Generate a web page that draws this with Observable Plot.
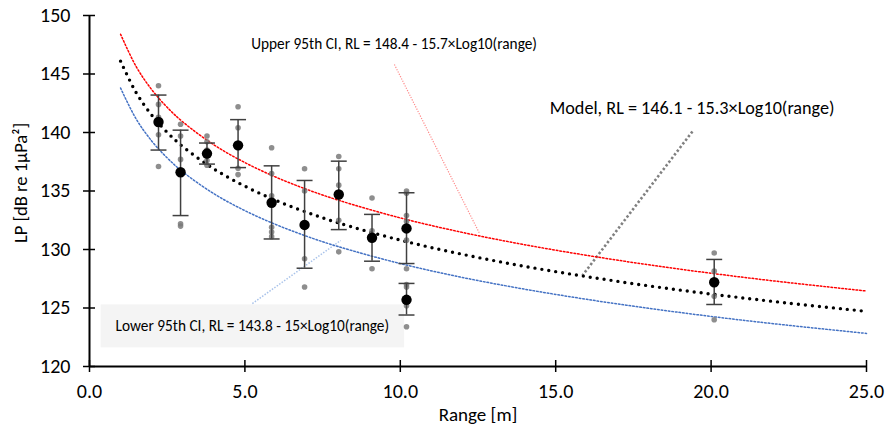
<!DOCTYPE html>
<html>
<head>
<meta charset="utf-8">
<script src="https://cdn.jsdelivr.net/npm/d3@7"></script>
<script src="https://cdn.jsdelivr.net/npm/@observablehq/plot@0.6"></script>
<style>
  html, body { margin: 0; padding: 0; background: #fff; }
  #chart { width: 894px; height: 436px; }
</style>
</head>
<body>
<div id="chart"></div>
<script>
// ---- data ----
const xTicks = [0, 5, 10, 15, 20, 25];
const yTicks = [120, 125, 130, 135, 140, 145, 150];

// individual measurements
const sampleRange = [
  2.22, 2.22, 2.22, 2.22, 2.22,
  2.93, 2.93, 2.93, 2.93, 2.93,
  3.78, 3.78, 3.78, 3.78, 3.78,
  4.78, 4.78, 4.78, 4.78, 4.78,
  5.86, 5.86, 5.86, 5.86, 5.86, 5.86, 5.86,
  6.92, 6.92, 6.92, 6.92, 6.92,
  8.02, 8.02, 8.02, 8.02, 8.02, 8.02,
  9.09, 9.09, 9.09, 9.09,
  10.2, 10.2, 10.2, 10.2, 10.2, 10.2, 10.2, 10.2, 10.2, 10.2, 10.2,
  20.1, 20.1, 20.1, 20.1, 20.1
];
const sampleLP = [
  144.0, 142.4, 141.3, 139.8, 137.1,
  140.7, 139.7, 137.7, 132.2, 132.0,
  139.7, 139.2, 138.5, 137.6, 137.2,
  142.2, 140.4, 139.0, 136.95, 136.4,
  138.7, 136.5, 134.6, 134.3, 131.9, 131.5, 131.1,
  136.9, 135.0, 132.3, 129.2, 126.8,
  137.95, 136.9, 135.5, 134.6, 132.5, 129.8,
  134.4, 131.6, 131.25, 128.35,
  135.0, 134.8, 132.9, 132.4, 130.8, 128.35, 127.0, 126.8, 125.9, 125.2, 123.4,
  129.7, 128.15, 127.2, 126.0, 124.0
];

// group means with error bars
const meanRange = [2.22, 2.93, 3.78, 4.78, 5.86, 6.92, 8.02, 9.09, 10.2, 10.2, 20.1];
const meanLP    = [140.9, 136.6, 138.2, 138.9, 134.0, 132.1, 134.7, 131.0, 131.8, 125.7, 127.2];
const errHigh   = [143.2, 140.2, 139.1, 141.1, 137.15, 135.9, 137.55, 133.0, 134.85, 127.1, 129.15];
const errLow    = [138.5, 132.9, 137.3, 137.0, 130.9, 128.4, 131.7, 129.0, 128.8, 124.4, 125.3];

// fitted curves
const curveRange = [1, 1.5, 2, 2.5, 3, 4, 5, 6, 7, 8, 10, 12, 14, 16, 18, 20, 22, 25];
const modelLP = [146.10, 143.41, 141.49, 140.01, 138.80, 136.89, 135.41, 134.19, 133.17, 132.28, 130.80, 129.59, 128.56, 127.68, 126.89, 126.19, 125.56, 124.71];
const upperLP = [148.40, 145.64, 143.67, 142.15, 140.91, 138.95, 137.43, 136.18, 135.13, 134.22, 132.70, 131.46, 130.41, 129.50, 128.69, 127.97, 127.32, 126.45];
const lowerLP = [143.80, 141.16, 139.28, 137.83, 136.64, 134.77, 133.32, 132.13, 131.12, 130.25, 128.80, 127.61, 126.61, 125.74, 124.97, 124.28, 123.66, 122.83];

// annotations (data units)
const labelText  = ["Upper 95th CI, RL = 148.4 - 15.7×Log10(range)",
                    "Model, RL = 146.1 - 15.3×Log10(range)",
                    "Lower 95th CI, RL = 143.8 - 15×Log10(range)"];
const labelRange = [9.80, 19.39, 5.24];
const labelLP    = [147.52, 142.05, 123.42];
const leaderX1 = [9.81, 19.40, 5.24];
const leaderY1 = [145.81, 140.09, 125.38];
const leaderX2 = [12.55, 15.86, 8.08];
const leaderY2 = [131.37, 127.78, 130.77];

// ---- tables ----
const samples = sampleRange.map((r, i) => ({r, lp: sampleLP[i]}));
const means = meanRange.map((r, i) => ({r, lp: meanLP[i], hi: errHigh[i], lo: errLow[i]}));
const model = curveRange.map((r, i) => ({r, lp: modelLP[i]}));
const upper = curveRange.map((r, i) => ({r, lp: upperLP[i]}));
const lower = curveRange.map((r, i) => ({r, lp: lowerLP[i]}));
const leaders = leaderX1.map((x, i) => ({x1: x, y1: leaderY1[i], x2: leaderX2[i], y2: leaderY2[i]}));
const labels = labelText.map((t, i) => ({t, r: labelRange[i], lp: labelLP[i]}));

const capSymbol = {
  draw(ctx, size) {
    const w = Math.sqrt(size);
    ctx.moveTo(-w, 0);
    ctx.lineTo(w, 0);
  }
};

const FONT = "Carlito, Calibri, Lato, 'Open Sans', sans-serif";

const chart = Plot.plot({
  width: 894,
  height: 436,
  marginLeft: 89,
  marginRight: 28,
  marginTop: 15,
  marginBottom: 70,
  style: {fontFamily: FONT, color: "#000", background: "#fff", overflow: "visible"},
  x: {domain: [0, 25]},
  y: {domain: [120, 150]},
  marks: [
    // axes
    Plot.axisX(xTicks, {tickSize: 6, tickPadding: 11, fontSize: 20, tickFormat: d => d.toFixed(1), label: null, strokeWidth: 1.5}),
    Plot.axisX(xTicks, {tickSize: -6, tickFormat: () => "", label: null, strokeWidth: 1.5}),
    Plot.axisY(yTicks, {tickSize: 6, tickPadding: 13, fontSize: 20, tickFormat: d => String(d), label: null, strokeWidth: 1.5}),
    Plot.axisY(yTicks, {tickSize: -6, tickFormat: () => "", label: null, strokeWidth: 1.5}),
    Plot.ruleY([120], {stroke: "#000", strokeWidth: 2}),
    Plot.ruleX([0], {stroke: "#000", strokeWidth: 2}),
    Plot.text(["Range [m]"], {frameAnchor: "bottom", textAnchor: "middle", dy: 54, text: d => d, fontSize: 19, fill: "#000"}),
    Plot.text(["LP [dB re 1μPa²]"], {frameAnchor: "left", textAnchor: "middle", lineAnchor: "middle", dx: -68, dy: -8, rotate: -90, text: d => d, fontSize: 18.5, fill: "#000"}),

    // leader lines
    Plot.link([leaders[0]], {x1: "x1", y1: "y1", x2: "x2", y2: "y2", stroke: "#ff8a8a", strokeWidth: 1.2, strokeDasharray: "1.2 1.4"}),
    Plot.link([leaders[1]], {x1: "x1", y1: "y1", x2: "x2", y2: "y2", stroke: "#808080", strokeWidth: 2.6, strokeDasharray: "2.4 2.2"}),
    Plot.link([leaders[2]], {x1: "x1", y1: "y1", x2: "x2", y2: "y2", stroke: "#a9c3ea", strokeWidth: 1.5, strokeDasharray: "1.5 1.5"}),

    // curves
    Plot.line(upper, {x: "r", y: "lp", curve: "catmull-rom", stroke: "#ff0000", strokeWidth: 1.5, strokeDasharray: "1.6 2"}),
    Plot.line(lower, {x: "r", y: "lp", curve: "catmull-rom", stroke: "#4472c4", strokeWidth: 1.5, strokeDasharray: "1.6 2"}),
    Plot.line(model, {x: "r", y: "lp", curve: "catmull-rom", stroke: "#000", strokeWidth: 3.4, strokeDasharray: "0 7", strokeLinecap: "round"}),

    // samples
    Plot.dot(samples, {x: "r", y: "lp", r: 2.8, fill: "#7a7a7a", fillOpacity: 0.85}),

    // error bars
    Plot.ruleX(means, {x: "r", y1: "lo", y2: "hi", stroke: "#404040", strokeWidth: 1.5}),
    Plot.dot(means, {x: "r", y: "hi", symbol: capSymbol, r: 4.5, stroke: "#404040", strokeWidth: 1.5, fill: "none"}),
    Plot.dot(means, {x: "r", y: "lo", symbol: capSymbol, r: 4.5, stroke: "#404040", strokeWidth: 1.5, fill: "none"}),
    Plot.dot(means, {x: "r", y: "lp", r: 5.2, fill: "#000", stroke: "none"}),

    // labels
    Plot.text([labels[0]], {x: "r", y: "lp", text: "t", fontSize: 15.3, fill: "#000"}),
    Plot.text([labels[1]], {x: "r", y: "lp", text: "t", fontSize: 18.2, fill: "#000"}),
    Plot.text([labels[2]], {x: "r", y: "lp", text: "t", fontSize: 15.3, fill: "#000"})
  ]
});

document.getElementById("chart").appendChild(chart);

// light box behind the lower CI label
const svgNode = chart.tagName.toLowerCase() === "svg" ? chart : chart.querySelector("svg");
const lowerText = Array.from(svgNode.querySelectorAll("text")).find(t => t.textContent.startsWith("Lower 95th"));
if (lowerText) {
  const bb = lowerText.getBBox();
  const ctm = lowerText.getCTM();
  const svgCtm = svgNode.getCTM();
  const ox = ctm && svgCtm ? ctm.e - svgCtm.e : 0;
  const oy = ctm && svgCtm ? ctm.f - svgCtm.f : 0;
  const rect = document.createElementNS("http://www.w3.org/2000/svg", "rect");
  rect.setAttribute("x", bb.x + ox - 15);
  rect.setAttribute("y", bb.y + oy - 12);
  rect.setAttribute("width", bb.width + 30);
  rect.setAttribute("height", bb.height + 24);
  rect.setAttribute("fill", "#f4f4f4");
  const firstG = svgNode.querySelector("g");
  svgNode.insertBefore(rect, firstG);
}
</script>
</body>
</html>
